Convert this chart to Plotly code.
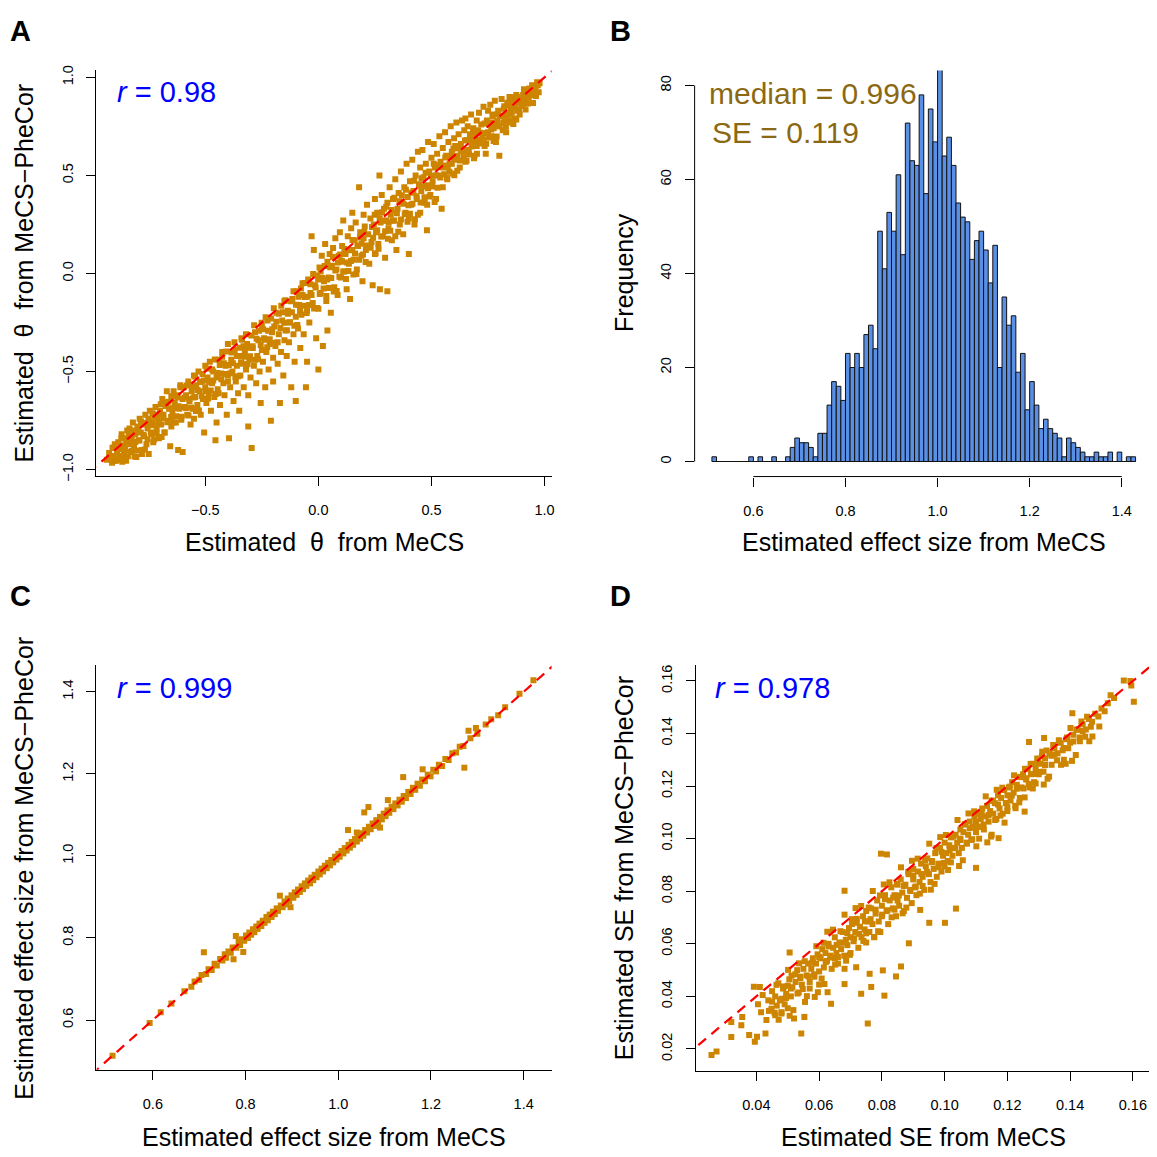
import plotly.graph_objects as go

# ---------------- DATA ----------------
# Panel A: estimated theta, MeCS (x) vs MeCS-PheCor (y)
theta_points = [
    (-0.935,-0.95),(-0.925,-0.915),(-0.915,-0.94),(-0.91,-0.89),(-0.905,-0.93),(-0.90,-0.87),(-0.895,-0.955),(-0.89,-0.91),
    (-0.885,-0.86),(-0.88,-0.93),(-0.875,-0.895),(-0.87,-0.82),(-0.865,-0.94),(-0.86,-0.875),(-0.855,-0.90),(-0.85,-0.84),(-0.85,-0.955),
    (-0.845,-0.80),(-0.84,-0.87),(-0.835,-0.79),(-0.83,-0.91),(-0.825,-0.845),(-0.82,-0.76),(-0.815,-0.88),(-0.81,-0.82),(-0.805,-0.935),(-0.80,-0.78),
    (-0.795,-0.85),(-0.79,-0.74),(-0.785,-0.81),(-0.78,-0.90),(-0.775,-0.77),(-0.77,-0.83),(-0.765,-0.72),(-0.76,-0.87),(-0.755,-0.79),(-0.75,-0.75),(-0.75,-0.92),
    (-0.745,-0.70),(-0.74,-0.81),(-0.735,-0.76),(-0.73,-0.86),(-0.725,-0.73),(-0.72,-0.68),(-0.715,-0.79),(-0.71,-0.74),(-0.705,-0.84),(-0.70,-0.70),
    (-0.695,-0.77),(-0.69,-0.64),(-0.685,-0.72),(-0.68,-0.81),(-0.675,-0.66),(-0.67,-0.60),(-0.665,-0.75),(-0.66,-0.69),(-0.655,-0.88),(-0.65,-0.63),(-0.65,-0.78),
    (-0.645,-0.71),(-0.64,-0.60),(-0.635,-0.66),(-0.63,-0.76),(-0.625,-0.62),(-0.62,-0.90),(-0.615,-0.69),(-0.61,-0.57),(-0.605,-0.73),(-0.60,-0.64),(-0.60,-0.91),
    (-0.595,-0.58),(-0.59,-0.68),(-0.585,-0.62),(-0.58,-0.72),(-0.575,-0.55),(-0.57,-0.65),(-0.565,-0.77),(-0.56,-0.60),(-0.555,-0.69),(-0.55,-0.52),(-0.55,-0.74),
    (-0.545,-0.63),(-0.54,-0.57),(-0.535,-0.67),(-0.53,-0.50),(-0.525,-0.60),(-0.52,-0.72),(-0.515,-0.55),(-0.51,-0.64),(-0.505,-0.81),(-0.50,-0.58),(-0.50,-0.47),
    (-0.495,-0.66),(-0.49,-0.53),(-0.485,-0.61),(-0.48,-0.45),(-0.475,-0.70),(-0.47,-0.56),(-0.465,-0.50),(-0.46,-0.63),(-0.455,-0.85),(-0.45,-0.53),(-0.45,-0.76),
    (-0.445,-0.59),(-0.44,-0.44),(-0.435,-0.67),(-0.43,-0.51),(-0.425,-0.40),(-0.42,-0.56),(-0.415,-0.62),(-0.41,-0.47),(-0.405,-0.72),(-0.40,-0.52),(-0.40,-0.36),
    (-0.395,-0.84),(-0.39,-0.58),(-0.385,-0.44),(-0.38,-0.50),(-0.375,-0.65),(-0.37,-0.39),(-0.365,-0.55),(-0.36,-0.47),(-0.355,-0.61),(-0.35,-0.42),(-0.35,-0.70),
    (-0.345,-0.52),(-0.34,-0.33),(-0.335,-0.46),(-0.33,-0.58),(-0.325,-0.40),(-0.32,-0.49),(-0.315,-0.36),(-0.31,-0.62),(-0.31,-0.78),(-0.305,-0.44),(-0.30,-0.53),
    (-0.295,-0.89),(-0.29,-0.38),(-0.285,-0.47),(-0.28,-0.30),(-0.275,-0.56),(-0.27,-0.42),(-0.265,-0.34),(-0.26,-0.50),(-0.255,-0.66),(-0.25,-0.39),(-0.25,-0.27),
    (-0.245,-0.45),(-0.24,-0.33),(-0.235,-0.58),(-0.23,-0.40),(-0.225,-0.24),(-0.22,-0.49),(-0.215,-0.36),(-0.21,-0.75),(-0.205,-0.30),(-0.20,-0.43),(-0.20,-0.55),
    (-0.195,-0.27),(-0.19,-0.37),(-0.185,-0.20),(-0.18,-0.46),(-0.175,-0.31),(-0.17,-0.66),(-0.165,-0.40),(-0.16,-0.24),(-0.155,-0.52),(-0.15,-0.34),(-0.15,-0.14),
    (-0.145,-0.29),(-0.14,-0.42),(-0.135,-0.19),(-0.13,-0.35),(-0.125,-0.25),(-0.12,-0.58),(-0.115,-0.13),(-0.11,-0.31),(-0.105,-0.45),(-0.10,-0.22),(-0.10,-0.65),
    (-0.095,-0.09),(-0.09,-0.28),(-0.085,-0.16),(-0.08,-0.38),(-0.075,-0.21),(-0.07,-0.05),(-0.065,-0.31),(-0.06,-0.12),(-0.055,-0.58),(-0.05,-0.19),(-0.05,-0.45),
    (-0.045,-0.03),(-0.04,-0.25),(-0.035,-0.10),(-0.03,0.19),(-0.025,-0.15),(-0.02,0.12),(-0.015,-0.06),(-0.01,-0.33),(-0.005,-0.01),(0.0,-0.49),(0.0,-0.18),
    (0.005,0.03),(0.01,-0.10),(0.015,0.09),(0.02,-0.37),(0.025,-0.04),(0.03,0.15),(0.035,-0.14),(0.04,-0.29),(0.04,0.06),(0.045,-0.02),(0.05,0.10),
    (0.055,-0.20),(0.06,0.04),(0.065,0.13),(0.07,-0.07),(0.075,0.18),(0.08,0.02),(0.085,-0.11),(0.09,0.09),(0.095,0.21),(0.10,-0.02),(0.10,0.06),
    (0.105,0.14),(0.11,0.27),(0.115,0.01),(0.12,0.10),(0.125,-0.08),(0.13,0.19),(0.135,0.05),(0.14,-0.13),(0.145,0.23),(0.15,0.12),(0.15,0.31),
    (0.155,0.07),(0.16,0.17),(0.165,0.26),(0.17,0.02),(0.175,0.14),(0.18,0.44),(0.185,0.21),(0.19,0.09),(0.195,-0.04),(0.20,0.18),(0.20,0.30),
    (0.205,0.24),(0.21,0.12),(0.215,0.35),(0.22,0.20),(0.225,0.05),(0.23,0.28),(0.235,0.16),(0.24,-0.06),(0.245,0.25),(0.25,0.38),(0.25,0.10),
    (0.255,0.21),(0.26,0.31),(0.265,0.15),(0.27,0.50),(0.272,-0.08),(0.275,0.26),(0.28,0.40),(0.285,0.19),(0.29,0.33),(0.295,0.08),(0.30,0.27),
    (0.305,-0.09),(0.305,0.36),(0.31,0.23),(0.315,0.44),(0.32,0.30),(0.325,0.17),(0.33,0.38),(0.335,0.27),(0.34,0.48),(0.345,0.12),(0.35,0.33),
    (0.355,0.41),(0.36,0.25),(0.365,0.52),(0.37,0.36),(0.375,0.20),(0.38,0.44),(0.385,0.31),(0.39,0.56),(0.395,0.39),(0.40,0.10),(0.40,0.28),
    (0.405,0.47),(0.41,0.35),(0.415,0.58),(0.42,0.42),(0.425,0.25),(0.43,0.50),(0.435,0.38),(0.44,0.62),(0.445,0.45),(0.45,0.31),(0.45,0.54),
    (0.455,0.42),(0.46,0.63),(0.465,0.49),(0.47,0.36),(0.475,0.56),(0.48,0.22),(0.48,0.45),(0.485,0.67),(0.49,0.52),(0.495,0.40),(0.50,0.59),
    (0.505,0.47),(0.51,0.66),(0.515,0.54),(0.52,0.38),(0.525,0.61),(0.53,0.50),(0.535,0.70),(0.54,0.57),(0.545,0.33),(0.55,0.64),(0.55,0.44),
    (0.555,0.55),(0.56,0.72),(0.565,0.60),(0.57,0.48),(0.575,0.67),(0.58,0.56),(0.585,0.75),(0.59,0.62),(0.595,0.51),(0.60,0.69),(0.60,0.58),
    (0.605,0.65),(0.61,0.77),(0.615,0.60),(0.62,0.71),(0.625,0.54),(0.63,0.66),(0.635,0.78),(0.64,0.62),(0.645,0.73),(0.65,0.79),(0.65,0.57),
    (0.655,0.68),(0.66,0.75),(0.665,0.63),(0.67,0.71),(0.675,0.81),(0.68,0.66),(0.685,0.74),(0.69,0.60),(0.695,0.70),(0.70,0.78),(0.70,0.65),
    (0.705,0.73),(0.71,0.82),(0.715,0.68),(0.72,0.76),(0.725,0.71),(0.73,0.85),(0.735,0.65),(0.74,0.61),(0.745,0.78),(0.75,0.72),(0.75,0.83),
    (0.755,0.76),(0.76,0.86),(0.765,0.70),(0.77,0.80),(0.775,0.74),(0.78,0.88),(0.785,0.67),(0.79,0.78),(0.795,0.83),(0.80,0.60),(0.80,0.75),
    (0.805,0.80),(0.81,0.89),(0.815,0.73),(0.82,0.84),(0.825,0.78),(0.83,0.72),(0.835,0.87),(0.84,0.81),(0.845,0.90),(0.85,0.77),(0.85,0.84),
    (0.855,0.82),(0.86,0.88),(0.865,0.79),(0.87,0.85),(0.875,0.91),(0.88,0.83),(0.885,0.87),(0.89,0.81),(0.895,0.89),(0.90,0.86),
    (0.905,0.91),(0.91,0.88),(0.915,0.93),(0.92,0.89),(0.925,0.92),(0.93,0.90),(0.935,0.94),(0.94,0.92),(0.945,0.945),(0.95,0.93),(0.96,0.95),(0.97,0.96),
]
# Panel A: points in the dense core of the band
theta_core_points = [
    (-0.918,-0.948),(-0.912,-0.965),(-0.907,-0.887),(-0.900,-0.955),(-0.896,-0.946),
    (-0.889,-0.950),(-0.883,-0.893),(-0.878,-0.938),(-0.871,-0.841),(-0.867,-0.960),
    (-0.860,-0.910),(-0.854,-0.950),(-0.849,-0.849),(-0.842,-0.932),(-0.838,-0.828),
    (-0.831,-0.861),(-0.825,-0.905),(-0.820,-0.800),(-0.813,-0.933),(-0.809,-0.859),
    (-0.802,-0.902),(-0.796,-0.806),(-0.791,-0.851),(-0.784,-0.754),(-0.780,-0.920),
    (-0.773,-0.823),(-0.767,-0.897),(-0.762,-0.762),(-0.755,-0.845),(-0.751,-0.741),
    (-0.744,-0.774),(-0.738,-0.818),(-0.733,-0.713),(-0.726,-0.846),(-0.722,-0.772),
    (-0.715,-0.815),(-0.709,-0.719),(-0.704,-0.764),(-0.697,-0.667),(-0.693,-0.833),
    (-0.686,-0.736),(-0.680,-0.810),(-0.675,-0.675),(-0.668,-0.758),(-0.664,-0.654),
    (-0.657,-0.687),(-0.651,-0.731),(-0.646,-0.626),(-0.639,-0.759),(-0.635,-0.685),
    (-0.628,-0.728),(-0.622,-0.632),(-0.617,-0.677),(-0.610,-0.580),(-0.606,-0.746),
    (-0.592,-0.632),(-0.586,-0.686),(-0.581,-0.571),(-0.574,-0.724),(-0.570,-0.640),
    (-0.563,-0.683),(-0.557,-0.577),(-0.552,-0.632),(-0.545,-0.525),(-0.541,-0.701),
    (-0.534,-0.594),(-0.528,-0.698),(-0.523,-0.553),(-0.516,-0.626),(-0.512,-0.512),
    (-0.505,-0.545),(-0.499,-0.599),(-0.494,-0.484),(-0.487,-0.637),(-0.483,-0.553),
    (-0.476,-0.596),(-0.470,-0.490),(-0.465,-0.545),(-0.458,-0.438),(-0.454,-0.614),
    (-0.447,-0.507),(-0.441,-0.611),(-0.436,-0.466),(-0.429,-0.539),(-0.425,-0.425),
    (-0.418,-0.458),(-0.412,-0.512),(-0.407,-0.397),(-0.400,-0.550),(-0.396,-0.466),
    (-0.389,-0.509),(-0.383,-0.403),(-0.378,-0.458),(-0.371,-0.351),(-0.367,-0.527),
    (-0.360,-0.420),(-0.354,-0.524),(-0.349,-0.379),(-0.342,-0.452),(-0.338,-0.338),
    (-0.331,-0.371),(-0.325,-0.425),(-0.320,-0.310),(-0.313,-0.463),(-0.309,-0.379),
    (-0.302,-0.422),(-0.296,-0.316),(-0.291,-0.371),(-0.284,-0.264),(-0.280,-0.440),
    (-0.273,-0.333),(-0.267,-0.437),(-0.262,-0.292),(-0.255,-0.365),(-0.251,-0.251),
    (-0.244,-0.284),(-0.238,-0.338),(-0.233,-0.223),(-0.226,-0.376),(-0.222,-0.292),
    (-0.215,-0.335),(-0.209,-0.229),(-0.204,-0.284),(-0.197,-0.177),(-0.193,-0.353),
    (-0.186,-0.246),(-0.180,-0.350),(-0.175,-0.205),(-0.168,-0.278),(-0.164,-0.164),
    (-0.157,-0.197),(-0.151,-0.251),(-0.146,-0.136),(-0.139,-0.289),(-0.135,-0.205),
    (-0.128,-0.248),(-0.122,-0.142),(-0.117,-0.197),(-0.110,-0.090),(-0.106,-0.266),
    (-0.099,-0.159),(-0.093,-0.263),(-0.088,-0.118),(-0.081,-0.191),(-0.077,-0.077),
    (-0.070,-0.110),(-0.064,-0.164),(-0.059,-0.049),(-0.052,-0.202),(-0.048,-0.118),
    (-0.041,-0.161),(-0.035,-0.055),(-0.030,-0.110),(-0.023,-0.003),(-0.019,-0.179),
    (-0.012,-0.072),(-0.006,-0.176),(-0.001,-0.031),(0.006,-0.104),(0.010,0.010),
    (0.017,-0.023),(0.023,-0.077),(0.028,0.038),(0.035,-0.115),(0.039,-0.031),
    (0.046,-0.074),(0.052,0.032),(0.057,-0.023),(0.064,0.084),(0.068,-0.092),
    (0.075,0.015),(0.081,-0.089),(0.086,0.056),(0.093,-0.017),(0.097,0.097),
    (0.104,0.064),(0.110,0.010),(0.115,0.125),(0.122,-0.028),(0.126,0.056),
    (0.133,0.013),(0.139,0.119),(0.144,0.064),(0.151,0.171),(0.155,-0.005),
    (0.162,0.102),(0.168,-0.002),(0.173,0.143),(0.180,0.070),(0.184,0.184),
    (0.191,0.151),(0.197,0.097),(0.202,0.212),(0.209,0.059),(0.213,0.143),
    (0.231,0.131),(0.237,0.237),(0.242,0.182),(0.249,0.299),(0.253,0.103),
    (0.260,0.220),(0.266,0.126),(0.271,0.281),(0.278,0.188),(0.282,0.312),
    (0.289,0.269),(0.295,0.215),(0.300,0.340),(0.307,0.177),(0.311,0.261),
    (0.318,0.218),(0.324,0.324),(0.329,0.269),(0.336,0.386),(0.340,0.190),
    (0.347,0.307),(0.353,0.213),(0.358,0.368),(0.365,0.275),(0.369,0.399),
    (0.376,0.356),(0.382,0.302),(0.387,0.427),(0.394,0.264),(0.398,0.348),
    (0.405,0.305),(0.411,0.411),(0.416,0.356),(0.423,0.473),(0.427,0.277),
    (0.434,0.394),(0.440,0.300),(0.445,0.455),(0.452,0.362),(0.456,0.486),
    (0.463,0.443),(0.469,0.389),(0.474,0.514),(0.481,0.351),(0.485,0.435),
    (0.492,0.392),(0.498,0.498),(0.503,0.443),(0.510,0.560),(0.514,0.364),
    (0.521,0.501),(0.527,0.437),(0.532,0.552),(0.539,0.489),(0.543,0.543),
    (0.550,0.540),(0.556,0.506),(0.561,0.591),(0.568,0.488),(0.572,0.542),
    (0.579,0.519),(0.585,0.595),(0.590,0.560),(0.597,0.637),(0.601,0.501),
    (0.608,0.588),(0.614,0.524),(0.619,0.639),(0.626,0.576),(0.630,0.630),
    (0.637,0.627),(0.643,0.593),(0.648,0.678),(0.655,0.575),(0.659,0.629),
    (0.666,0.606),(0.672,0.682),(0.677,0.647),(0.684,0.724),(0.688,0.588),
    (0.695,0.675),(0.701,0.611),(0.706,0.726),(0.713,0.663),(0.717,0.717),
    (0.724,0.714),(0.730,0.680),(0.735,0.765),(0.742,0.662),(0.746,0.716),
    (0.753,0.693),(0.759,0.769),(0.764,0.734),(0.771,0.811),(0.775,0.675),
    (0.782,0.762),(0.788,0.698),(0.793,0.813),(0.800,0.750),(0.804,0.804),
    (0.811,0.801),(0.817,0.767),(0.822,0.852),(0.829,0.749),(0.833,0.803),
    (0.840,0.780),(0.846,0.856),(0.851,0.821),(0.858,0.898),(0.862,0.762),
    (0.869,0.849),(0.875,0.785),(0.880,0.900),(0.887,0.837),(0.891,0.891),
    (0.898,0.888),(0.904,0.854),(0.909,0.939),(0.916,0.836),(0.920,0.890),
    (0.927,0.867),(0.933,0.943),(0.938,0.908),(0.945,0.960),(0.949,0.869),
    (0.956,0.936),(0.962,0.905),(0.967,0.975),(0.974,0.924),(0.978,0.970),
]

# Panel B: histogram of estimated effect size (bin width 0.01, first bin starts 0.51)
bin_starts = [round(0.51 + 0.01 * i, 2) for i in range(92)]
bin_counts = [
    1, 0, 0, 0, 0, 0, 0, 0, 1, 0, 1, 0, 0, 1, 0, 0, 1, 3, 5, 4,
    4, 3, 1, 6, 6, 12, 17, 16, 13, 23, 20, 23, 20, 27, 29, 24, 49, 41, 53, 49,
    61, 44, 72, 64, 63, 78, 57, 75, 68, 85, 65, 69, 63, 55, 52, 51, 43, 47, 49, 45,
    38, 46, 20, 35, 29, 31, 19, 23, 11, 17, 12, 7, 9, 7, 6, 5, 1, 5, 4, 3,
    2, 1, 1, 2, 1, 1, 2, 0, 2, 0, 1, 1,
]
hist_ticks = [0.6, 0.8, 1.0, 1.2, 1.4]
freq_ticks = [0, 20, 40, 60, 80]

# Panel C: estimated effect size, MeCS (x) vs MeCS-PheCor (y)
effect_points = [
    (0.513,0.513),(0.593,0.593),(0.617,0.619),(0.640,0.640),(0.668,0.670),(0.683,0.681),(0.690,0.694),(0.700,0.698),(0.705,0.710),(0.710,0.765),
    (0.715,0.712),(0.720,0.724),(0.727,0.722),(0.733,0.737),(0.738,0.733),(0.745,0.749),(0.750,0.745),(0.755,0.760),(0.758,0.752),(0.763,0.767),
    (0.768,0.764),(0.774,0.748),(0.772,0.777),(0.779,0.805),(0.780,0.776),(0.785,0.790),(0.788,0.783),(0.792,0.797),(0.795,0.766),(0.797,0.793),
    (0.801,0.806),(0.805,0.800),(0.808,0.813),(0.812,0.808),(0.816,0.821),(0.819,0.814),(0.823,0.828),(0.826,0.822),(0.830,0.835),(0.834,0.829),
    (0.837,0.842),(0.841,0.837),(0.845,0.851),(0.848,0.843),(0.852,0.857),(0.856,0.851),(0.859,0.864),(0.863,0.858),(0.867,0.872),(0.870,0.866),
    (0.874,0.903),(0.876,0.879),(0.880,0.875),(0.884,0.889),(0.887,0.882),(0.891,0.896),(0.894,0.890),(0.897,0.875),(0.899,0.904),(0.903,0.898),
    (0.906,0.911),(0.910,0.905),(0.913,0.918),(0.917,0.912),(0.921,0.926),(0.924,0.919),(0.928,0.933),(0.931,0.927),(0.935,0.940),(0.939,0.933),
    (0.942,0.947),(0.946,0.941),(0.949,0.954),(0.953,0.948),(0.957,0.962),(0.960,0.955),(0.964,0.969),(0.967,0.962),(0.971,0.976),(0.975,0.970),
    (0.978,0.983),(0.982,0.977),(0.985,0.990),(0.989,0.984),(0.993,0.998),(0.996,0.991),(1.000,1.005),(1.003,0.998),(1.007,1.012),(1.011,1.006),
    (1.014,1.019),(1.018,1.013),(1.021,1.063),(1.022,1.027),(1.025,1.020),(1.029,1.034),(1.032,1.027),(1.036,1.041),(1.040,1.057),(1.040,1.035),
    (1.043,1.048),(1.047,1.042),(1.050,1.055),(1.056,1.106),(1.054,1.049),(1.058,1.063),(1.062,1.057),(1.065,1.119),(1.066,1.071),(1.070,1.065),
    (1.074,1.079),(1.078,1.073),(1.082,1.087),(1.086,1.081),(1.090,1.069),(1.090,1.095),(1.094,1.089),(1.098,1.103),(1.102,1.097),(1.107,1.136),
    (1.106,1.111),(1.110,1.105),(1.115,1.120),(1.119,1.114),(1.123,1.128),(1.128,1.123),(1.132,1.137),(1.137,1.132),(1.140,1.192),(1.141,1.146),
    (1.146,1.141),(1.151,1.156),(1.156,1.151),(1.161,1.166),(1.166,1.161),(1.171,1.176),(1.176,1.171),(1.182,1.211),(1.181,1.186),(1.187,1.182),
    (1.193,1.198),(1.199,1.194),(1.205,1.210),(1.211,1.206),(1.217,1.222),(1.224,1.219),(1.231,1.236),(1.238,1.234),(1.246,1.250),(1.254,1.252),
    (1.262,1.266),(1.272,1.215),(1.270,1.268),(1.281,1.305),(1.285,1.287),(1.297,1.312),(1.300,1.298),(1.318,1.320),(1.330,1.333),(1.345,1.343),
    (1.360,1.362),(1.391,1.395),(1.421,1.428),
]

# Panel D: estimated SE, MeCS (x) vs MeCS-PheCor (y)
se_points = [
    (0.0257,0.0177),(0.0273,0.019),(0.032,0.0246),(0.032,0.0303),(0.0352,0.029),(0.0355,0.0322),(0.0377,0.0253),(0.0392,0.0437),(0.0395,0.0228),(0.0402,0.0247),
    (0.0405,0.037),(0.0411,0.0436),(0.0415,0.034),(0.042,0.0405),(0.0429,0.0259),(0.0432,0.031),(0.0438,0.0385),(0.044,0.0345),(0.0448,0.0353),(0.045,0.042),
    (0.046,0.0328),(0.046,0.040),(0.0465,0.0365),(0.047,0.045),(0.0475,0.0385),(0.048,0.0391),(0.048,0.0335),(0.0485,0.043),(0.049,0.037),(0.0495,0.041),(0.050,0.0441),(0.050,0.0355),
    (0.0505,0.0465),(0.0506,0.0567),(0.051,0.040),(0.0512,0.0479),(0.0515,0.0435),(0.052,0.0316),(0.0525,0.0455),(0.053,0.050),(0.0535,0.0415),(0.054,0.0475),(0.0543,0.0259),(0.0545,0.0445),(0.055,0.0505),(0.0553,0.0322),
    (0.0555,0.0379),(0.056,0.048),(0.0565,0.0525),(0.057,0.0455),(0.0575,0.0505),(0.058,0.0545),(0.0586,0.0398),(0.0585,0.0475),(0.059,0.0525),(0.0595,0.056),(0.060,0.0495),(0.060,0.0445),
    (0.0605,0.0545),(0.061,0.058),(0.0615,0.051),(0.0617,0.0447),(0.062,0.0565),(0.0627,0.0416),(0.0625,0.0535),(0.063,0.060),(0.0635,0.0555),(0.0638,0.0372),(0.064,0.0505),(0.0645,0.0585),(0.065,0.0545),(0.065,0.0625),
    (0.0655,0.0565),(0.066,0.0525),(0.0665,0.0605),(0.067,0.058),(0.0675,0.0645),(0.068,0.0555),(0.0681,0.0447),(0.0681,0.0505),(0.0681,0.0802),(0.0685,0.0615),(0.069,0.0595),(0.0695,0.066),(0.070,0.0625),(0.070,0.0565),
    (0.0705,0.0675),(0.071,0.061),(0.0715,0.0645),(0.0718,0.0511),(0.072,0.0695),(0.0725,0.0585),(0.073,0.0665),(0.0734,0.041),(0.0735,0.0625),(0.074,0.0705),(0.0745,0.0655),(0.075,0.0605),(0.075,0.0725),
    (0.0755,0.0297),(0.0755,0.0685),(0.0761,0.0486),(0.076,0.0645),(0.0766,0.0436),(0.0765,0.0735),(0.077,0.0675),(0.0775,0.0625),(0.078,0.0715),(0.0785,0.0765),(0.079,0.0685),(0.0795,0.0645),(0.0797,0.0943),(0.080,0.0745),(0.080,0.0705),
    (0.0803,0.0499),(0.0808,0.0403),(0.081,0.0785),(0.0816,0.0940),(0.0815,0.0725),(0.082,0.0675),(0.0825,0.0765),(0.083,0.0815),(0.0835,0.0735),(0.084,0.0785),(0.0845,0.0476),(0.0845,0.0705),(0.085,0.0825),(0.085,0.0765),
    (0.0855,0.0745),(0.0861,0.0514),(0.086,0.0845),(0.0865,0.0795),(0.087,0.0725),(0.0875,0.0825),(0.088,0.0775),(0.0886,0.0602),(0.0885,0.0865),(0.089,0.0805),(0.0895,0.0755),(0.090,0.0845),(0.090,0.0885),
    (0.0905,0.0815),(0.091,0.0785),(0.0915,0.0875),(0.092,0.0835),(0.0922,0.0729),(0.0925,0.0905),(0.093,0.0855),(0.0935,0.0805),(0.094,0.0895),(0.0945,0.0925),(0.095,0.0865),(0.0951,0.068),
    (0.0955,0.0835),(0.096,0.0915),(0.0965,0.0885),(0.097,0.0945),(0.0975,0.0855),(0.098,0.0905),(0.0985,0.0965),(0.099,0.0875),(0.0995,0.0935),(0.100,0.0895),(0.1001,0.068),(0.100,0.0985),
    (0.1005,0.0945),(0.101,0.0915),(0.1015,0.0975),(0.102,0.1005),(0.1025,0.0935),(0.103,0.0965),(0.1036,0.0734),(0.1035,0.1015),(0.104,0.0985),(0.1045,0.0945),(0.105,0.1035),(0.105,0.0995),
    (0.1055,0.0965),(0.106,0.1025),(0.1065,0.1055),(0.107,0.0985),(0.1075,0.1015),(0.108,0.1065),(0.1085,0.0995),(0.109,0.1045),(0.1095,0.1085),(0.110,0.0889),(0.110,0.1025),(0.110,0.1065),
    (0.1105,0.1095),(0.111,0.1045),(0.1115,0.1075),(0.112,0.1115),(0.1125,0.1035),(0.113,0.1085),(0.1135,0.1125),(0.114,0.1065),(0.1145,0.1105),(0.115,0.1145),(0.115,0.1015),
    (0.1155,0.1095),(0.116,0.1135),(0.1165,0.1075),(0.117,0.1165),(0.1172,0.1002),(0.1175,0.1115),(0.118,0.1155),(0.1185,0.1095),(0.119,0.1185),(0.1195,0.1135),(0.120,0.1165),(0.120,0.1105),
    (0.1205,0.1195),(0.121,0.1145),(0.1215,0.1215),(0.122,0.1175),(0.1225,0.1125),(0.123,0.1205),(0.1235,0.1235),(0.124,0.1155),(0.1245,0.1195),(0.125,0.1245),(0.1255,0.1103),(0.1255,0.1157),
    (0.126,0.1225),(0.1265,0.1265),(0.1269,0.1368),(0.127,0.1195),(0.1275,0.1245),(0.128,0.1285),(0.1285,0.1215),(0.129,0.1265),(0.1295,0.1305),(0.130,0.1245),
    (0.1305,0.1285),(0.131,0.1315),(0.1317,0.1383),(0.1315,0.1255),(0.132,0.1305),(0.1325,0.1335),(0.1333,0.1236),(0.134,0.1315),(0.135,0.1345),(0.136,0.1325),(0.137,0.1365),(0.1386,0.1285),(0.138,0.1345),(0.139,0.1385),(0.140,0.1365),
    (0.1407,0.1477),(0.141,0.1395),(0.142,0.1415),(0.143,0.1385),(0.144,0.1435),(0.145,0.1415),(0.146,0.1455),(0.1471,0.1389),(0.147,0.1445),(0.148,0.1475),(0.1493,0.1427),(0.149,0.1465),(0.150,0.1495),
    (0.151,0.1485),(0.152,0.1515),(0.1529,0.1546),(0.154,0.1535),(0.1571,0.1602),(0.1592,0.160),(0.1595,0.1583),(0.1603,0.1521),
]
# Panel D: points in the dense core of the band
se_core_points = [
    (0.0450,0.0380),(0.0458,0.0338),(0.0464,0.0444),(0.0471,0.0311),(0.0476,0.0386),
    (0.0480,0.0340),(0.0488,0.0438),(0.0494,0.0394),(0.0501,0.0501),(0.0506,0.0326),
    (0.0510,0.0430),(0.0518,0.0348),(0.0524,0.0484),(0.0531,0.0411),(0.0536,0.0526),
    (0.0540,0.0470),(0.0548,0.0428),(0.0554,0.0534),(0.0561,0.0401),(0.0566,0.0476),
    (0.0570,0.0430),(0.0578,0.0528),(0.0584,0.0484),(0.0591,0.0591),(0.0596,0.0416),
    (0.0600,0.0550),(0.0608,0.0468),(0.0614,0.0604),(0.0621,0.0531),(0.0626,0.0646),
    (0.0630,0.0590),(0.0638,0.0548),(0.0644,0.0654),(0.0651,0.0521),(0.0656,0.0596),
    (0.0660,0.0550),(0.0668,0.0648),(0.0674,0.0604),(0.0681,0.0711),(0.0686,0.0536),
    (0.0690,0.0640),(0.0698,0.0558),(0.0704,0.0694),(0.0711,0.0621),(0.0716,0.0736),
    (0.0720,0.0680),(0.0728,0.0638),(0.0734,0.0744),(0.0741,0.0611),(0.0746,0.0686),
    (0.0750,0.0640),(0.0758,0.0738),(0.0764,0.0694),(0.0771,0.0801),(0.0776,0.0626),
    (0.0780,0.0730),(0.0788,0.0648),(0.0794,0.0784),(0.0801,0.0711),(0.0806,0.0826),
    (0.0810,0.0770),(0.0818,0.0728),(0.0824,0.0834),(0.0831,0.0701),(0.0836,0.0776),
    (0.0840,0.0730),(0.0848,0.0828),(0.0854,0.0784),(0.0861,0.0891),(0.0866,0.0716),
    (0.0870,0.0820),(0.0878,0.0738),(0.0884,0.0874),(0.0891,0.0801),(0.0896,0.0916),
    (0.0900,0.0860),(0.0908,0.0818),(0.0914,0.0924),(0.0921,0.0791),(0.0926,0.0866),
    (0.0930,0.0820),(0.0938,0.0918),(0.0944,0.0874),(0.0951,0.0981),(0.0956,0.0806),
    (0.0960,0.0910),(0.0968,0.0828),(0.0974,0.0964),(0.0981,0.0891),(0.0986,0.1006),
    (0.0990,0.0950),(0.0998,0.0908),(0.1004,0.1014),(0.1011,0.0881),(0.1016,0.0956),
    (0.1020,0.0910),(0.1028,0.1008),(0.1034,0.0964),(0.1041,0.1071),(0.1046,0.0896),
    (0.1050,0.1000),(0.1058,0.0918),(0.1064,0.1054),(0.1071,0.0981),(0.1076,0.1096),
    (0.1080,0.1040),(0.1088,0.0998),(0.1094,0.1104),(0.1101,0.0971),(0.1106,0.1046),
    (0.1110,0.1000),(0.1118,0.1098),(0.1124,0.1054),(0.1131,0.1161),(0.1136,0.0986),
    (0.1140,0.1090),(0.1148,0.1008),(0.1154,0.1144),(0.1161,0.1071),(0.1166,0.1186),
    (0.1170,0.1130),(0.1178,0.1088),(0.1184,0.1194),(0.1191,0.1061),(0.1196,0.1136),
    (0.1200,0.1120),(0.1208,0.1198),(0.1214,0.1164),(0.1221,0.1241),(0.1226,0.1116),
    (0.1230,0.1190),(0.1238,0.1138),(0.1244,0.1234),(0.1251,0.1191),(0.1256,0.1266),
    (0.1260,0.1230),(0.1268,0.1208),(0.1274,0.1284),(0.1281,0.1191),(0.1286,0.1246),
    (0.1290,0.1210),(0.1298,0.1288),(0.1304,0.1254),(0.1311,0.1331),(0.1316,0.1206),
    (0.1320,0.1280),(0.1328,0.1228),(0.1334,0.1324),(0.1341,0.1281),(0.1346,0.1356),
    (0.1350,0.1320),(0.1358,0.1298),(0.1364,0.1374),(0.1371,0.1281),(0.1376,0.1336),
    (0.1380,0.1300),(0.1388,0.1378),(0.1394,0.1344),(0.1401,0.1421),(0.1406,0.1296),
    (0.1410,0.1370),(0.1418,0.1318),(0.1424,0.1414),(0.1431,0.1371),(0.1436,0.1446),
    (0.1440,0.1410),(0.1448,0.1388),(0.1454,0.1464),(0.1461,0.1371),(0.1466,0.1426),
]

theta_ticks_x = [-0.5, 0.0, 0.5, 1.0]
theta_ticks_y = [-1.0, -0.5, 0.0, 0.5, 1.0]
effect_ticks = [0.6, 0.8, 1.0, 1.2, 1.4]
se_ticks_x = [0.04, 0.06, 0.08, 0.10, 0.12, 0.14, 0.16]
se_ticks_y = [0.02, 0.04, 0.06, 0.08, 0.10, 0.12, 0.14, 0.16]

stats = {"r_theta": "0.98", "median": "0.996", "se": "0.119", "r_effect": "0.999", "r_se": "0.978"}

# ---------------- STYLE / LAYOUT ----------------
W = H = 1157
OFF = 8  # page body margin
FONT = "Liberation Sans, Arial, Helvetica, sans-serif"
ORANGE = "#CD8500"
BLUE_BAR = "#5A8FE6"
GOLD = "#8B6914"

def fx(px):
    return (px - OFF) / W

def fy(py):
    return 1 - (py - OFF) / H

A_XR, A_YR = [-0.981, 1.031], [-1.030, 1.035]
B_XR, B_YR = [0.4724, 1.4668], [-3.2, 83.2]
C_XR, C_YR = [0.4783, 1.4602], [0.4785, 1.4642]
D_XR, D_YR = [0.0206, 0.1661], [0.0118, 0.1659]

fig = go.Figure()

def scatter_panel(points, xa, ya, rng):
    xs = [p[0] for p in points]
    ys = [p[1] for p in points]
    fig.add_trace(go.Scatter(x=xs, y=ys, mode="markers",
                             marker=dict(symbol="square", size=6, color=ORANGE, line=dict(width=0)),
                             xaxis=xa, yaxis=ya, showlegend=False, hoverinfo="skip"))
    lo, hi = rng[0] - 1, rng[1] + 1
    fig.add_trace(go.Scatter(x=[lo, hi], y=[lo, hi], mode="lines",
                             line=dict(color="#FF0000", width=2.2, dash="10px,7px"),
                             xaxis=xa, yaxis=ya, showlegend=False, hoverinfo="skip"))

scatter_panel(theta_points + theta_core_points, "x", "y", A_XR)

centers = [round(s + 0.005, 3) for s in bin_starts]
fig.add_trace(go.Bar(x=centers, y=bin_counts, width=0.01,
                     marker=dict(color=BLUE_BAR, line=dict(color="#111111", width=1)),
                     xaxis="x2", yaxis="y2", showlegend=False, hoverinfo="skip"))

scatter_panel(effect_points, "x3", "y3", C_XR)
scatter_panel(se_points + se_core_points, "x4", "y4", D_XR)

tickfont = dict(family=FONT, size=14.5, color="black")
base = dict(showgrid=False, zeroline=False, ticks="outside", ticklen=9, tickwidth=1,
            tickcolor="black", tickfont=tickfont, linecolor="black", linewidth=1, fixedrange=True)

def xax(dom, rng, vals, fmt, anchor, line=True):
    d = dict(base)
    d.update(domain=[fx(dom[0]), fx(dom[1])], range=rng, tickvals=vals, tickformat=fmt,
             anchor=anchor, showline=line, ticklabelstandoff=12)
    return d

def yax(dom, rng, vals, fmt, anchor, line=True):
    d = dict(base)
    d.update(domain=[fy(dom[1]), fy(dom[0])], range=rng, tickvals=vals, tickformat=fmt,
             anchor=anchor, showline=line, tickangle=-90, ticklabelstandoff=8)
    return d

fig.update_layout(
    xaxis=xax([96.7, 553], A_XR, theta_ticks_x, ".1f", "y"),
    yaxis=yax([66, 475], A_YR, theta_ticks_y, ".1f", "x"),
    xaxis2=xax([696.4, 1155.5], B_XR, hist_ticks, ".1f", "y2", line=False),
    yaxis2=yax([66, 476], B_YR, freq_ticks, "d", "x2", line=False),
    xaxis3=xax([96.7, 553], C_XR, effect_ticks, ".1f", "y3"),
    yaxis3=yax([666.7, 1075], C_YR, effect_ticks, ".1f", "x3"),
    xaxis4=xax([697.3, 1155], D_XR, se_ticks_x, ".2f", "y4"),
    yaxis4=yax([666.7, 1075.7], D_YR, se_ticks_y, ".2f", "x4"),
)

shapes = [
    dict(type="line", xref="x2", yref="y2 domain", x0=hist_ticks[0], x1=hist_ticks[-1], y0=0, y1=0,
         line=dict(color="black", width=1)),
    dict(type="line", xref="x2 domain", yref="y2", x0=0, x1=0, y0=freq_ticks[0], y1=freq_ticks[-1],
         line=dict(color="black", width=1)),
    dict(type="line", xref="x2", yref="y2", x0=bin_starts[0], x1=bin_starts[-1] + 0.01, y0=0, y1=0,
         line=dict(color="#111111", width=1)),
]

ann = []
def text(px, py, s, size, color="black", xanchor="center", angle=0, bold=False, yanchor="middle"):
    ann.append(dict(x=fx(px), y=fy(py), xref="paper", yref="paper", text=("<b>%s</b>" % s) if bold else s,
                    showarrow=False, xanchor=xanchor, yanchor=yanchor, textangle=angle,
                    font=dict(family=FONT, size=size, color=color)))

NB = "\u00a0"
for lab, px in [("A", 21), ("B", 622)]:
    text(px, OFF, lab, 29, bold=True, yanchor="top")
for lab, px in [("C", 21), ("D", 622)]:
    text(px, 597, lab, 29, bold=True)

text(115, 88, "<i>r</i> = " + stats["r_theta"], 29, "#0000FF", "left")
text(709, 89, "median = " + stats["median"], 30, GOLD, "left")
text(712, 129, "SE = " + stats["se"], 30, GOLD, "left")
text(115, 689, "<i>r</i> = " + stats["r_effect"], 29, "#0000FF", "left")
text(715, 689, "<i>r</i> = " + stats["r_se"], 29, "#0000FF", "left")

text(325, 542, "Estimated" + NB * 2 + "\u03b8" + NB * 2 + "from MeCS", 25)
text(926, 542, "Estimated effect size from MeCS", 25)
text(325, 1143, "Estimated effect size from MeCS", 25)
text(926, 1143, "Estimated SE from MeCS", 25)
text(24, 270, "Estimated" + NB * 2 + "\u03b8" + NB * 2 + "from MeCS\u2212PheCor", 25, angle=-90)
text(625, 270, "Frequency", 25, angle=-90)
text(24, 871, "Estimated effect size from MeCS\u2212PheCor", 25, angle=-90)
text(625, 871, "Estimated SE from MeCS\u2212PheCor", 25, angle=-90)

fig.update_layout(width=W, height=H, margin=dict(l=0, r=0, t=0, b=0),
                  paper_bgcolor="white", plot_bgcolor="white",
                  shapes=shapes, annotations=ann, showlegend=False,
                  font=dict(family=FONT))

fig.write_html("out.html")
